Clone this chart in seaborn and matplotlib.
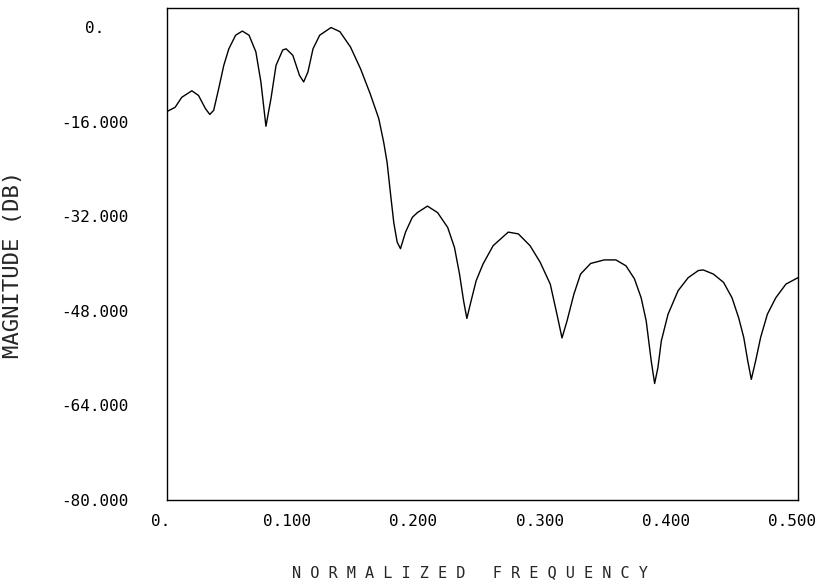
import matplotlib
matplotlib.use("Agg")
import matplotlib.pyplot as plt
import matplotlib.transforms as mtransforms
import seaborn as sns
import pandas as pd

# Data (normalized frequency, magnitude in dB)
freq = [0.0000, 0.0064, 0.0117, 0.0197, 0.0250, 0.0304, 0.0339, 0.0370, 0.0410,
        0.0450, 0.0490, 0.0544, 0.0597, 0.0650, 0.0704, 0.0744, 0.0784, 0.0824,
        0.0864, 0.0917, 0.0944, 0.0997, 0.1050, 0.1083, 0.1117, 0.1157, 0.1210,
        0.1300, 0.1370, 0.1454, 0.1534, 0.1610, 0.1678, 0.1717, 0.1744, 0.1770,
        0.1797, 0.1824, 0.1850, 0.1890, 0.1944, 0.1984, 0.2064, 0.2144, 0.2224,
        0.2278, 0.2318, 0.2350, 0.2376, 0.2410, 0.2450, 0.2504, 0.2584, 0.2704,
        0.2784, 0.2877, 0.2957, 0.3037, 0.3090, 0.3130, 0.3170, 0.3224, 0.3277,
        0.3357, 0.3464, 0.3557, 0.3637, 0.3704, 0.3757, 0.3797, 0.3837, 0.3864,
        0.3890, 0.3917, 0.3970, 0.4050, 0.4130, 0.4210, 0.4250, 0.4330, 0.4410,
        0.4477, 0.4530, 0.4570, 0.4602, 0.4630, 0.4664, 0.4704, 0.4757, 0.4824,
        0.4904, 0.5000]
mag_db = [-14.3, -13.6, -11.9, -10.8, -11.6, -13.8, -14.8, -14.1, -10.4,
          -6.5, -3.7, -1.4, -0.7, -1.4, -4.2, -9.3, -16.8, -12.1,
          -6.5, -3.9, -3.7, -4.8, -8.2, -9.3, -7.6, -3.7, -1.4,
          -0.1, -0.8, -3.4, -7.1, -11.3, -15.5, -19.5, -22.9, -28.0,
          -33.1, -36.4, -37.5, -34.7, -32.2, -31.4, -30.3, -31.4, -33.9,
          -37.3, -41.8, -46.3, -49.3, -46.3, -42.9, -40.1, -37.0, -34.7,
          -35.0, -37.0, -39.8, -43.5, -48.6, -52.6, -49.7, -45.2, -41.8,
          -40.0, -39.4, -39.4, -40.4, -42.6, -45.8, -49.7, -56.5, -60.3,
          -57.6, -53.1, -48.6, -44.6, -42.4, -41.2, -41.1, -41.8, -43.2,
          -45.8, -49.2, -52.5, -56.5, -59.6, -56.5, -52.5, -48.6, -45.8,
          -43.5, -42.4]

x_ticks = [0.0, 0.1, 0.2, 0.3, 0.4, 0.5]
x_tick_labels = ["0.", "0.100", "0.200", "0.300", "0.400", "0.500"]
y_ticks = [0, -16, -32, -48, -64, -80]
y_tick_labels = ["0.", "-16.000", "-32.000", "-48.000", "-64.000", "-80.000"]

df = pd.DataFrame({"freq": freq, "mag": mag_db})

sns.set_style("white")
plt.rcParams["font.family"] = ["DejaVu Sans Mono", "DejaVu Sans"]

fig = plt.figure(figsize=(8.17, 5.87), dpi=100)
ax = fig.add_axes([167 / 817, 1 - 500 / 587, (798 - 167) / 817, (500 - 8) / 587])

sns.lineplot(data=df, x="freq", y="mag", ax=ax, color="black", linewidth=1.0,
             estimator=None, sort=False)

ax.set_xlim(0, 0.5)
ax.set_ylim(-80, 3.2)
ax.set_xticks(x_ticks)
ax.set_xticklabels(x_tick_labels)
ax.set_yticks(y_ticks)
ax.set_yticklabels(y_tick_labels, ha="center")
ax.tick_params(axis="both", direction="in", length=3, width=0.8,
               colors="black", labelsize=11.5)
ax.tick_params(axis="y", pad=52)
ax.tick_params(axis="x", pad=10)

# shift x tick labels slightly left, as in the reference
offset = mtransforms.ScaledTranslation(-6 / 100, 0, fig.dpi_scale_trans)
for lab in ax.get_xticklabels():
    lab.set_transform(lab.get_transform() + offset)

for sp in ax.spines.values():
    sp.set_visible(True)
    sp.set_color("black")
    sp.set_linewidth(1.0)

ax.set_xlabel("N O R M A L I Z E D   F R E Q U E N C Y", fontsize=11)
ax.xaxis.set_label_coords(0.48, -0.132)
ax.xaxis.label.set_va("top")
ax.set_ylabel("MAGNITUDE (DB)", fontsize=16)
ax.yaxis.set_label_coords(-0.228, 0.478)

fig.savefig("out.png", dpi=100, facecolor="white")
